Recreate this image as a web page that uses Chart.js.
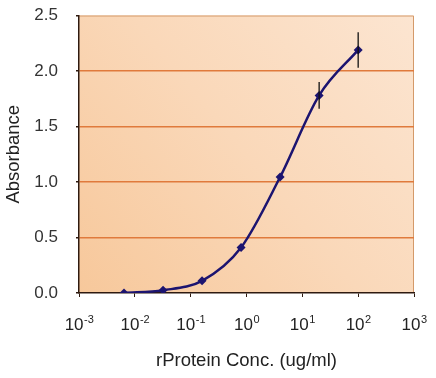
<!DOCTYPE html>
<html lang="en">
<head>
    <meta charset="UTF-8">
    <title>rProtein ELISA curve</title>
    <script src="https://cdn.jsdelivr.net/npm/chart.js"></script>
    <style>
        html, body { margin: 0; padding: 0; background: #fff; }
        #wrap { width: 436px; height: 378px; }
    </style>
</head>
<body>
    <div id="wrap"><canvas id="curveChart" width="436" height="378"></canvas></div>
    <script>
        // Data
        const concentrations = [0.0064, 0.032, 0.16, 0.8, 4, 20, 100];   // ug/ml
        const absorbance = [0.0, 0.025, 0.11, 0.41, 1.045, 1.78, 2.19];
        const errorBars = [0, 0, 0, 0, 0, 0.12, 0.16];                   // +/- SD
        const xExponents = [-3, -2, -1, 0, 1, 2, 3];
        const yTicks = [0, 0.5, 1.0, 1.5, 2.0, 2.5];

        const FONT = '"Liberation Sans", Arial, sans-serif';

        // Fond dégradé de la zone du graphique
        const plotBackground = {
            id: 'plotBackground',
            beforeDraw(chart) {
                const { ctx, chartArea: a } = chart;
                const g = ctx.createLinearGradient(a.left, a.bottom, a.right, a.top);
                g.addColorStop(0, '#f7c89b');
                g.addColorStop(0.5, '#fad8b9');
                g.addColorStop(1, '#fce5d1');
                ctx.save();
                ctx.fillStyle = g;
                ctx.fillRect(a.left, a.top, a.right - a.left, a.bottom - a.top);
                // cadre haut / droite
                ctx.strokeStyle = '#d49a6a';
                ctx.lineWidth = 1;
                ctx.beginPath();
                ctx.moveTo(a.left, a.top + 0.5);
                ctx.lineTo(a.right - 0.5, a.top + 0.5);
                ctx.lineTo(a.right - 0.5, a.bottom);
                ctx.stroke();
                ctx.restore();
            }
        };

        // Barres d'erreur + étiquettes 10^n
        const extras = {
            id: 'extras',
            afterDatasetsDraw(chart) {
                const { ctx } = chart;
                const xs = chart.scales.x, ys = chart.scales.y;
                ctx.save();
                ctx.strokeStyle = '#111';
                ctx.lineWidth = 1.3;
                concentrations.forEach((c, i) => {
                    if (!errorBars[i]) return;
                    const px = xs.getPixelForValue(c);
                    ctx.beginPath();
                    ctx.moveTo(px, ys.getPixelForValue(absorbance[i] + errorBars[i]));
                    ctx.lineTo(px, ys.getPixelForValue(absorbance[i] - errorBars[i]));
                    ctx.stroke();
                });
                ctx.restore();
            },
            afterDraw(chart) {
                const { ctx } = chart;
                const xs = chart.scales.x;
                const base = chart.chartArea.bottom;
                ctx.save();
                ctx.fillStyle = '#222';
                ctx.textBaseline = 'alphabetic';
                ctx.textAlign = 'left';
                xExponents.forEach(e => {
                    const px = xs.getPixelForValue(Math.pow(10, e));
                    const sup = String(e);
                    ctx.font = '17px ' + FONT;
                    const w1 = ctx.measureText('10').width;
                    ctx.font = '11px ' + FONT;
                    const w2 = ctx.measureText(sup).width;
                    const start = px - (w1 + w2) / 2;
                    ctx.font = '17px ' + FONT;
                    ctx.fillText('10', start, base + 37);
                    ctx.font = '11px ' + FONT;
                    ctx.fillText(sup, start + w1 + 0.5, base + 30);
                });
                ctx.restore();
            }
        };

        const ctx = document.getElementById('curveChart').getContext('2d');
        new Chart(ctx, {
            type: 'line',
            data: {
                datasets: [{
                    label: 'Absorbance',
                    data: concentrations.map((c, i) => ({ x: c, y: absorbance[i] })),
                    borderColor: '#1c1470',
                    backgroundColor: '#1c1470',
                    borderWidth: 2.5,
                    cubicInterpolationMode: 'monotone',
                    pointStyle: 'rectRot',
                    pointRadius: 4.5,
                    pointBorderWidth: 0,
                    fill: false
                }]
            },
            options: {
                responsive: false,
                animation: false,
                events: [],
                layout: { padding: { left: 0, right: 22, top: 15.5, bottom: 0 } },
                plugins: { legend: { display: false }, tooltip: { enabled: false } },
                scales: {
                    x: {
                        type: 'logarithmic',
                        min: 0.001,
                        max: 1000,
                        afterFit(scale) { scale.height = 85; scale.paddingLeft = 0; scale.paddingRight = 0; },
                        afterBuildTicks(scale) {
                            scale.ticks = xExponents.map(e => ({ value: Math.pow(10, e), major: true }));
                        },
                        border: { display: true, color: '#2e1a10', width: 1.5 },
                        grid: { display: true, drawOnChartArea: false, drawTicks: true, tickLength: 4, color: '#2e1a10' },
                        ticks: { display: false },
                        title: {
                            display: true,
                            text: 'rProtein Conc. (ug/ml)',
                            font: { family: FONT, size: 18.5 },
                            color: '#222',
                            padding: { top: 0, bottom: 6 }
                        }
                    },
                    y: {
                        min: 0,
                        max: 2.5,
                        afterFit(scale) { scale.width = 79; scale.paddingTop = 0; scale.paddingBottom = 0; },
                        afterBuildTicks(scale) {
                            scale.ticks = yTicks.map(v => ({ value: v }));
                        },
                        border: { display: true, color: '#2e1a10', width: 1.5 },
                        grid: {
                            color: ctx => (ctx.tick && (ctx.tick.value === 0 || ctx.tick.value === 2.5)) ? 'rgba(0,0,0,0)' : '#e07a3c',
                            lineWidth: 1.5,
                            drawTicks: true,
                            tickLength: 3,
                            tickColor: '#2e1a10'
                        },
                        ticks: {
                            color: '#333',
                            font: { family: FONT, size: 17 },
                            padding: 18,
                            callback: v => v.toFixed(1)
                        },
                        title: {
                            display: true,
                            text: 'Absorbance',
                            font: { family: FONT, size: 18.5 },
                            color: '#222',
                            padding: { top: 3, bottom: 0 }
                        }
                    }
                }
            },
            plugins: [plotBackground, extras]
        });
    </script>
</body>
</html>
